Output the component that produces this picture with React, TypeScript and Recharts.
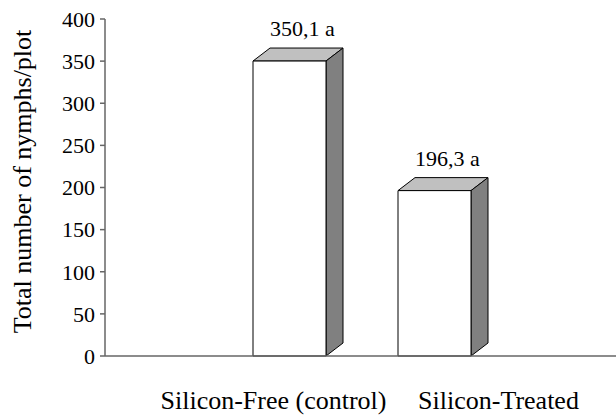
import React from 'react';
import { BarChart, Bar, XAxis, YAxis, LabelList } from 'recharts';

const categories = ['Silicon-Free (control)', 'Silicon-Treated'];
const nymphs = [350.1, 196.3];
const letters = ['a', 'a'];
const yTicks = [0, 50, 100, 150, 200, 250, 300, 350, 400];

const FONT = "Liberation Serif, Times New Roman, serif";
const DEPTH_X = 17;
const DEPTH_Y = 13;
// category labels were set off-centre in the original figure
const labelShift = [-16, 64];

const chartData = categories.map((name, i) => ({
  name,
  value: nymphs[i],
  label: `${nymphs[i].toFixed(1).replace('.', ',')} ${letters[i]}`,
}));

const Box3D = (props: any) => {
  const { x, y, width, height } = props;
  const w = width;
  const h = height;
  return (
    <g stroke="#000" strokeWidth={1} strokeLinejoin="round">
      <polygon
        points={`${x},${y} ${x + DEPTH_X},${y - DEPTH_Y} ${x + w + DEPTH_X},${y - DEPTH_Y} ${x + w},${y}`}
        fill="#c0c0c0"
      />
      <polygon
        points={`${x + w},${y} ${x + w + DEPTH_X},${y - DEPTH_Y} ${x + w + DEPTH_X},${y + h - DEPTH_Y} ${x + w},${y + h}`}
        fill="#808080"
      />
      <rect x={x} y={y} width={w} height={h} fill="#fff" />
    </g>
  );
};

const CategoryTick = (props: any) => {
  const { x, payload, index } = props;
  return (
    <text
      x={x + labelShift[index]}
      y={409}
      textAnchor="middle"
      fontFamily={FONT}
      fontSize={26}
      fill="#000"
    >
      {payload.value}
    </text>
  );
};

const ValueLabel = (props: any) => {
  const { x, y, width, value } = props;
  return (
    <text
      x={x + width / 2 + 13}
      y={y - 25}
      textAnchor="middle"
      fontFamily={FONT}
      fontSize={22}
      fill="#000"
    >
      {value}
    </text>
  );
};

const YTitle = (props: any) => {
  const { viewBox } = props;
  const cx = 22;
  const cy = viewBox.y + viewBox.height / 2 - 6;
  return (
    <text
      x={cx}
      y={cy}
      transform={`rotate(-90, ${cx}, ${cy})`}
      textAnchor="middle"
      dominantBaseline="central"
      fontFamily={FONT}
      fontSize={26}
      fill="#000"
    >
      Total number of nymphs/plot
    </text>
  );
};

export default function App() {
  return (
    <div style={{ position: 'absolute', left: 0, top: 0, background: '#fff' }}>
      <BarChart
        width={616}
        height={415}
        data={chartData}
        margin={{ top: 19, right: 0, bottom: 0, left: 45 }}
        barSize={73}
      >
        <XAxis
          dataKey="name"
          height={59}
          padding={{ left: 112, right: 109 }}
          tickLine={false}
          axisLine={{ stroke: '#666', strokeWidth: 1.5 }}
          tick={<CategoryTick />}
          interval={0}
        />
        <YAxis
          width={60}
          domain={[0, 400]}
          ticks={yTicks}
          interval={0}
          tickSize={5}
          tickMargin={5}
          axisLine={{ stroke: '#666', strokeWidth: 1.5 }}
          tickLine={{ stroke: '#666', strokeWidth: 1.5 }}
          tick={{ fill: '#000', fontSize: 22, fontFamily: FONT }}
          label={<YTitle />}
        />
        <Bar dataKey="value" shape={<Box3D />} isAnimationActive={false}>
          <LabelList dataKey="label" content={<ValueLabel />} />
        </Bar>
      </BarChart>
    </div>
  );
}
